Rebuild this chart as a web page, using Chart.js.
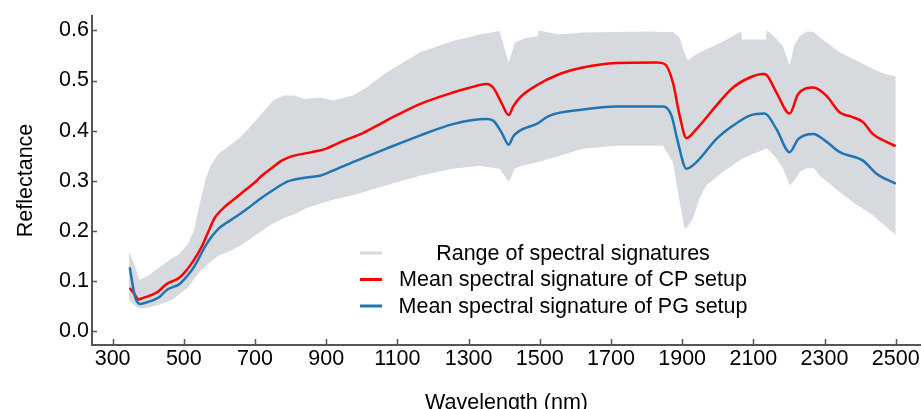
<!DOCTYPE html>
<html><head><meta charset="utf-8">
<script src="https://cdn.jsdelivr.net/npm/chart.js@4.4.0/dist/chart.umd.min.js"></script>
<style>html,body{margin:0;padding:0;background:#fff;overflow:hidden}</style>
</head><body>
<canvas id="c" width="921" height="409"></canvas>
<script>
const xTicks = [300,500,700,900,1100,1300,1500,1700,1900,2100,2300,2500];
const yTicks = [0,0.1,0.2,0.3,0.4,0.5,0.6];
const legendLabels = ['Range of spectral signatures','Mean spectral signature of CP setup','Mean spectral signature of PG setup'];

const cpWavelength = [348,363,372,390,410,430,452,470,485,500,522,550,570,587,605,625,650,672,700,719,750,775,800,822,860,900,950,1000,1069,1163,1256,1300,1350,1369,1392,1413,1425,1444,1490,1556,1621,1715,1828,1851,1874,1893,1912,1940,1996,2043,2090,2127,2137,2165,2202,2226,2268,2305,2343,2375,2408,2436,2470,2500];
const cpMean = [0.086,0.072,0.063,0.067,0.072,0.080,0.094,0.100,0.105,0.115,0.135,0.168,0.200,0.226,0.241,0.254,0.268,0.281,0.297,0.310,0.327,0.340,0.348,0.352,0.357,0.364,0.380,0.394,0.420,0.453,0.476,0.485,0.493,0.486,0.456,0.431,0.448,0.466,0.490,0.513,0.526,0.535,0.536,0.533,0.496,0.430,0.385,0.403,0.450,0.486,0.506,0.513,0.511,0.476,0.434,0.473,0.486,0.470,0.436,0.428,0.417,0.393,0.379,0.369];

const pgWavelength = [348,363,377,400,419,435,452,470,485,500,522,540,559,580,597,620,644,680,709,750,794,850,882,915,975,1069,1163,1256,1350,1369,1392,1413,1425,1444,1490,1528,1621,1715,1846,1870,1888,1912,1940,1996,2043,2090,2132,2165,2202,2226,2268,2305,2343,2408,2446,2500];
const pgMean = [0.127,0.068,0.054,0.058,0.063,0.070,0.082,0.088,0.092,0.102,0.121,0.142,0.168,0.190,0.204,0.216,0.227,0.245,0.261,0.281,0.299,0.307,0.310,0.319,0.337,0.364,0.390,0.413,0.423,0.420,0.397,0.372,0.388,0.400,0.413,0.430,0.442,0.448,0.448,0.430,0.377,0.324,0.337,0.383,0.410,0.430,0.434,0.403,0.357,0.383,0.393,0.378,0.357,0.340,0.314,0.294];

const rangeWavelength = [346,360,375,400,428,466,485,513,530,545,560,575,597,625,653,681,709,751,780,810,840,882,919,975,1013,1069,1163,1256,1331,1387,1401,1413,1430,1460,1493,1497,1556,1621,1715,1809,1846,1874,1893,1907,1915,1930,1949,1968,2015,2066,2068,2135,2138,2165,2183,2202,2215,2230,2249,2270,2287,2343,2390,2436,2470,2500];
const rangeMax = [0.158,0.135,0.102,0.110,0.125,0.145,0.152,0.175,0.205,0.255,0.300,0.330,0.354,0.368,0.383,0.403,0.426,0.460,0.470,0.470,0.463,0.466,0.460,0.470,0.486,0.516,0.556,0.579,0.592,0.599,0.563,0.536,0.576,0.585,0.588,0.600,0.592,0.596,0.597,0.598,0.597,0.597,0.585,0.555,0.540,0.548,0.556,0.562,0.578,0.598,0.582,0.582,0.601,0.583,0.569,0.530,0.570,0.589,0.598,0.597,0.586,0.556,0.540,0.523,0.513,0.509];
const rangeMin = [0.062,0.052,0.045,0.047,0.052,0.062,0.072,0.088,0.105,0.118,0.128,0.138,0.150,0.158,0.168,0.181,0.195,0.215,0.225,0.233,0.244,0.254,0.262,0.271,0.279,0.291,0.310,0.324,0.330,0.324,0.310,0.297,0.325,0.332,0.337,0.338,0.350,0.364,0.370,0.370,0.370,0.337,0.257,0.204,0.208,0.224,0.265,0.291,0.318,0.343,0.344,0.364,0.365,0.345,0.325,0.291,0.300,0.317,0.325,0.325,0.310,0.277,0.252,0.231,0.210,0.191];

const FONT = '"Liberation Sans", Arial, sans-serif';
const BAND = '#d6d9de', RED = '#ff0000', BLUE = '#1f74b4', AXIS = '#555555';
const pts = (xs, ys) => xs.map((x, i) => ({x, y: ys[i]}));

const inwardTicks = {
  id: 'inwardTicks',
  afterDraw(chart) {
    const {ctx, chartArea: a, scales: {x, y}} = chart;
    ctx.save();
    ctx.strokeStyle = AXIS; ctx.lineWidth = 1.5;
    x.ticks.forEach(t => {
      const px = Math.round(x.getPixelForValue(t.value)) + 0.5;
      ctx.beginPath(); ctx.moveTo(px, a.bottom); ctx.lineTo(px, a.bottom - 6); ctx.stroke();
    });
    y.ticks.forEach(t => {
      const py = Math.round(y.getPixelForValue(t.value)) + 0.5;
      ctx.beginPath(); ctx.moveTo(a.left, py); ctx.lineTo(a.left + 5, py); ctx.stroke();
    });
    ctx.restore();
  }
};

const customLegend = {
  id: 'customLegend',
  afterDraw(chart) {
    const {ctx} = chart;
    const colors = [BAND, RED, BLUE];
    ctx.save();
    ctx.font = '21.5px ' + FONT;
    ctx.textAlign = 'center';
    ctx.textBaseline = 'middle';
    legendLabels.forEach((lab, i) => {
      const yy = 253 + i * 26.5;
      ctx.strokeStyle = colors[i]; ctx.lineWidth = 3;
      ctx.beginPath(); ctx.moveTo(360, yy); ctx.lineTo(382, yy); ctx.stroke();
      ctx.fillStyle = '#000';
      ctx.fillText(lab, 573, yy + 1);
    });
    ctx.restore();
  }
};

new Chart(document.getElementById('c'), {
  type: 'line',
  data: {
    datasets: [
      {label: legendLabels[2], data: pts(pgWavelength, pgMean), borderColor: BLUE, borderWidth: 2.5, pointRadius: 0, fill: false, cubicInterpolationMode: 'monotone'},
      {label: legendLabels[1], data: pts(cpWavelength, cpMean), borderColor: RED, borderWidth: 2.5, pointRadius: 0, fill: false, cubicInterpolationMode: 'monotone'},
      {label: legendLabels[0], data: pts(rangeWavelength, rangeMax), borderWidth: 0, borderColor: BAND, backgroundColor: BAND, pointRadius: 0, fill: '+1', tension: 0},
      {label: 'min', data: pts(rangeWavelength, rangeMin), borderWidth: 0, borderColor: BAND, backgroundColor: BAND, pointRadius: 0, fill: false, tension: 0}
    ]
  },
  options: {
    responsive: false,
    animation: false,
    events: [],
    layout: {padding: {top: 15, right: 0, left: 13, bottom: 0}},
    plugins: {legend: {display: false}, tooltip: {enabled: false}},
    scales: {
      x: {
        type: 'linear', min: 242, max: 2571,
        afterBuildTicks: s => { s.ticks = xTicks.map(v => ({value: v})); },
        afterFit: s => { s.height = 64; },
        grid: {display: false, drawTicks: false, tickLength: 0},
        border: {display: true, color: AXIS, width: 2},
        ticks: {color: '#000', font: {family: FONT, size: 21.5}, padding: 1, maxRotation: 0, autoSkip: false,
                callback: v => String(v)},
        title: {display: true, text: 'Wavelength (nm)', color: '#000', font: {family: FONT, size: 21.5}, padding: {top: 0, bottom: -7}}
      },
      y: {
        type: 'linear', min: -0.028, max: 0.629,
        afterBuildTicks: s => { s.ticks = yTicks.map(v => ({value: v})); },
        afterFit: s => { s.width = 79; },
        grid: {display: false, drawTicks: false, tickLength: 0},
        border: {display: true, color: AXIS, width: 2},
        ticks: {color: '#000', font: {family: FONT, size: 21.5}, padding: 3, autoSkip: false,
                callback: v => Number(v).toFixed(1)},
        title: {display: true, text: 'Reflectance', color: '#000', font: {family: FONT, size: 21.5}, padding: {top: 0, bottom: 0}}
      }
    }
  },
  plugins: [inwardTicks, customLegend]
});
</script>
</body></html>
